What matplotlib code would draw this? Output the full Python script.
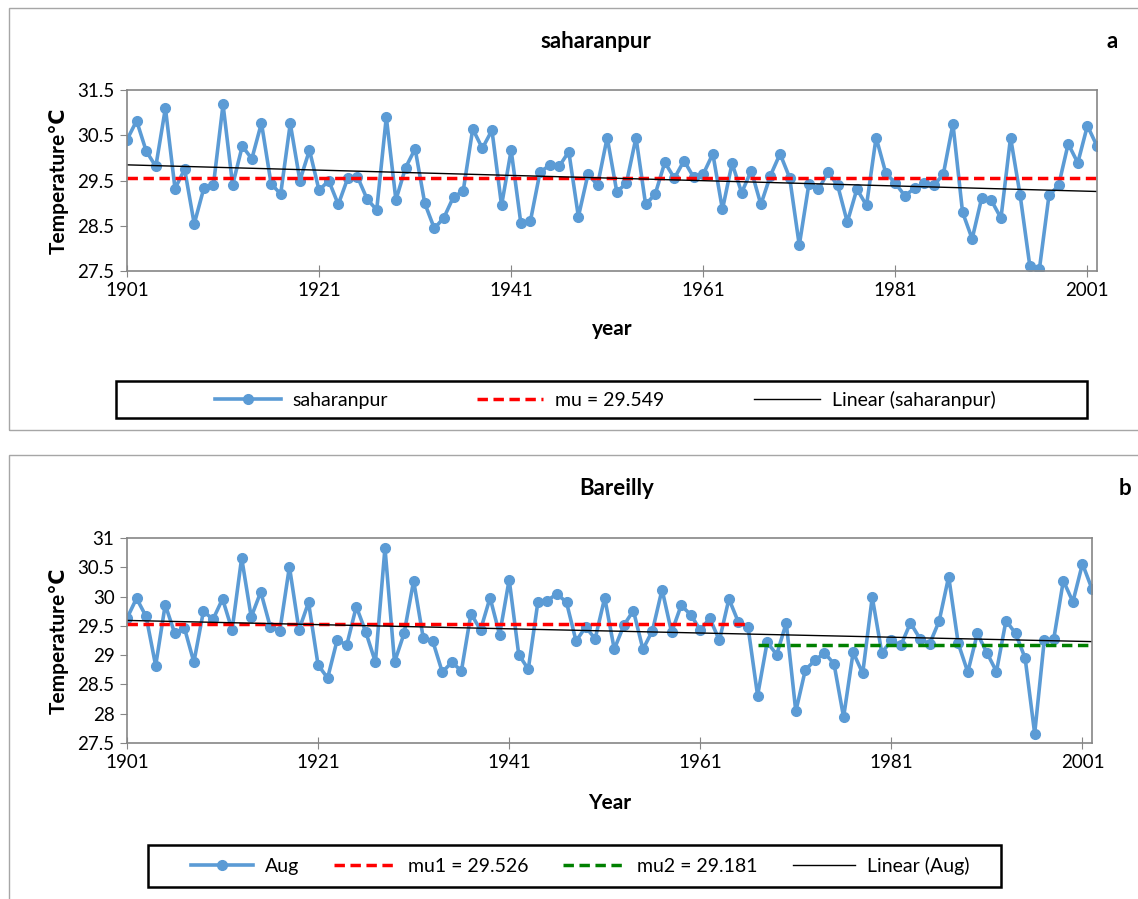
import numpy as np
import matplotlib.pyplot as plt
from matplotlib.patches import Rectangle

plt.rcParams['font.family'] = ['Lato', 'DejaVu Sans']

years = list(range(1901, 2003))

saharanpur = [
    30.40, 30.82, 30.15, 29.81, 31.10, 29.32, 29.75, 28.54, 29.33, 29.40,
    31.18, 29.40, 30.26, 29.98, 30.77, 29.43, 29.20, 30.76, 29.50, 30.17,
    29.28, 29.50, 28.97, 29.56, 29.58, 29.09, 28.85, 30.90, 29.07, 29.78,
    30.20, 29.00, 28.44, 28.68, 29.14, 29.26, 30.64, 30.21, 30.61, 28.95,
    30.17, 28.57, 28.60, 29.68, 29.84, 29.81, 30.14, 28.70, 29.64, 29.40,
    30.45, 29.25, 29.44, 30.45, 28.97, 29.20, 29.90, 29.55, 29.94, 29.57,
    29.64, 30.09, 28.86, 29.88, 29.23, 29.72, 28.97, 29.61, 30.09, 29.56,
    28.07, 29.42, 29.31, 29.68, 29.39, 28.58, 29.31, 28.95, 30.45, 29.67,
    29.44, 29.16, 29.33, 29.44, 29.39, 29.64, 30.75, 28.80, 28.21, 29.12,
    29.06, 28.67, 30.45, 29.17, 27.62, 27.54, 29.17, 29.39, 30.31, 29.89,
    30.71, 30.26,
]

bareilly = [
    29.63, 29.97, 29.66, 28.82, 29.86, 29.37, 29.47, 28.88, 29.75, 29.61,
    29.96, 29.43, 30.66, 29.65, 30.08, 29.48, 29.42, 30.51, 29.43, 29.90,
    28.83, 28.61, 29.26, 29.17, 29.83, 29.39, 28.88, 30.83, 28.88, 29.37,
    30.27, 29.30, 29.24, 28.71, 28.88, 28.73, 29.71, 29.43, 29.98, 29.35,
    30.29, 29.01, 28.76, 29.90, 29.93, 30.05, 29.90, 29.24, 29.48, 29.28,
    29.98, 29.10, 29.51, 29.76, 29.10, 29.42, 30.12, 29.39, 29.85, 29.69,
    29.43, 29.63, 29.25, 29.96, 29.56, 29.48, 28.31, 29.22, 29.01, 29.55,
    28.04, 28.75, 28.91, 29.04, 28.85, 27.94, 29.05, 28.69, 29.99, 29.04,
    29.25, 29.17, 29.55, 29.28, 29.19, 29.58, 30.34, 29.20, 28.71, 29.37,
    29.04, 28.72, 29.59, 29.37, 28.95, 27.66, 29.25, 29.28, 30.27, 29.91,
    30.56, 30.13,
]

mu_top = 29.549
mu1 = 29.526
mu2 = 29.181
split_year = 1966   # last year of the mu1 segment

W, H = 1138, 899
fig = plt.figure(figsize=(W / 100, H / 100), dpi=100)


def px_axes(x0, y0, x1, y1):
    # pixel box (top-left origin) -> figure fraction axes
    return fig.add_axes([x0 / W, 1 - y1 / H, (x1 - x0) / W, (y1 - y0) / H])


def fx(x):
    return x / W


def fy(y):
    return 1 - y / H


blue = '#5B9BD5'
spine_col = '#868686'

# outer chart borders
for (y0, y1) in [(8, 430), (455, 905)]:
    fig.patches.append(Rectangle((fx(9), fy(y1)), fx(1140) - fx(9), fy(y0) - fy(y1),
                                 transform=fig.transFigure, fill=False,
                                 edgecolor='#a6a6a6', linewidth=1))


def style_axes(ax, yticks):
    ax.set_xlim(1901, 2002)
    ax.set_xticks([1901, 1921, 1941, 1961, 1981, 2001])
    ax.set_yticks(yticks)
    ax.set_ylim(yticks[0], yticks[-1])
    ax.set_yticklabels([('%g' % t) for t in yticks])
    for s in ax.spines.values():
        s.set_color(spine_col)
        s.set_linewidth(1.2)
    ax.tick_params(axis='x', direction='inout', length=8, color=spine_col,
                   labelsize=13.5, pad=4)
    ax.tick_params(axis='y', direction='out', length=5, color=spine_col,
                   labelsize=13.5, pad=4)


def trend(x, y):
    k, b = np.polyfit(x, y, 1)
    xs = np.array([x[0], x[-1]])
    return xs, k * xs + b


# ---- panel a ----
ax1 = px_axes(127, 90, 1097, 271)
l1, = ax1.plot(years, saharanpur, color=blue, lw=2.6, marker='o', ms=7,
               label='saharanpur')
l2, = ax1.plot([1901, 2002], [mu_top, mu_top], color='red', lw=2.5,
               ls=(0, (3, 1.6)), label='mu = 29.549')
tx, ty = trend(years, saharanpur)
l3, = ax1.plot(tx, ty, color='black', lw=1, label='Linear (saharanpur)')
style_axes(ax1, [27.5, 28.5, 29.5, 30.5, 31.5])
ax1.set_xlabel('year', fontsize=15, fontweight='bold', labelpad=14)
ax1.set_ylabel('Temperature\u2103', fontsize=15, fontweight='bold', labelpad=6)

fig.text(fx(596), fy(42), 'saharanpur', ha='center', va='center',
         fontsize=16, fontweight='bold')
fig.text(fx(1112), fy(42), 'a', ha='center', va='center',
         fontsize=16, fontweight='bold')

fig.patches.append(Rectangle((fx(116), fy(418)), fx(1087) - fx(116), fy(381) - fy(418),
                             transform=fig.transFigure, fill=False,
                             edgecolor='black', linewidth=1.8))
fig.legend(handles=[l1, l2, l3], loc='center', bbox_to_anchor=(fx(605), fy(400)),
           ncol=3, frameon=False, fontsize=14, handlelength=3.4,
           columnspacing=4.6, handletextpad=0.6)

# ---- panel b ----
ax2 = px_axes(127, 538, 1092, 743)
m1, = ax2.plot(years, bareilly, color=blue, lw=2.6, marker='o', ms=7,
               label='Aug')
m2, = ax2.plot([1901, split_year], [mu1, mu1], color='red', lw=2.5,
               ls=(0, (3, 1.6)), label='mu1 = 29.526')
m3, = ax2.plot([split_year + 1, 2002], [mu2, mu2], color='green', lw=2.5,
               ls=(0, (3, 1.6)), label='mu2 = 29.181')
tx, ty = trend(years, bareilly)
m4, = ax2.plot(tx, ty, color='black', lw=1, label='Linear (Aug)')
style_axes(ax2, [27.5, 28, 28.5, 29, 29.5, 30, 30.5, 31])
ax2.set_xlabel('Year', fontsize=15, fontweight='bold', labelpad=16)
ax2.set_ylabel('Temperature\u2103', fontsize=15, fontweight='bold', labelpad=6)

fig.text(fx(617), fy(488), 'Bareilly', ha='center', va='center',
         fontsize=16, fontweight='bold')
fig.text(fx(1125), fy(488), 'b', ha='center', va='center',
         fontsize=16, fontweight='bold')

fig.patches.append(Rectangle((fx(148), fy(887)), fx(1001) - fx(148), fy(845) - fy(887),
                             transform=fig.transFigure, fill=False,
                             edgecolor='black', linewidth=1.8))
fig.legend(handles=[m1, m2, m3, m4], loc='center', bbox_to_anchor=(fx(580), fy(866)),
           ncol=4, frameon=False, fontsize=14, handlelength=3.2,
           columnspacing=1.8, handletextpad=0.6)

fig.savefig('out.png', dpi=100)
